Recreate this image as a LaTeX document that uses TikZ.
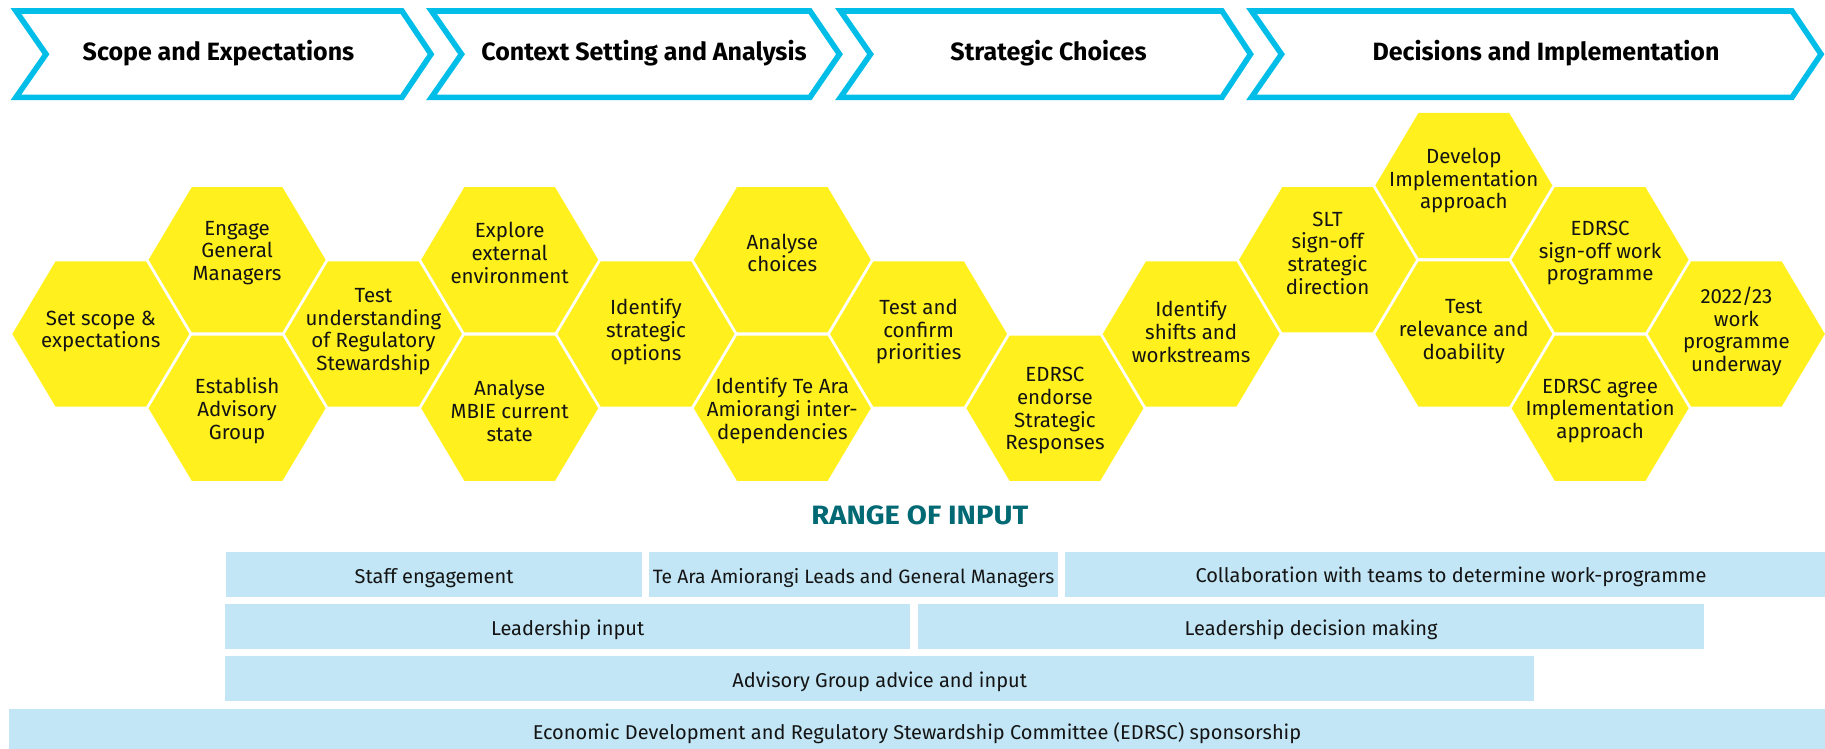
\documentclass[tikz,border=0pt]{standalone}
\usepackage{fontspec}
\setmainfont{Fira Sans}
\definecolor{chevblue}{RGB}{0,190,232}
\definecolor{hexyellow}{RGB}{255,240,30}
\definecolor{barblue}{RGB}{194,230,245}
\definecolor{tealtxt}{RGB}{0,105,115}
\definecolor{inktxt}{RGB}{20,20,20}
% #1 name, #2 column, #3 level, #4 text y, #5 text
\newcommand\hexcell[5]{%
  \pgfmathsetmacro\hx{100.8+136.3*#2}%
  \pgfmathsetmacro\hy{185.4+74.3*#3}%
  \fill[hexyellow] ({\hx-88.5},{\hy}) -- ({\hx-45.3},{\hy-72.6}) -- ({\hx+45.3},{\hy-72.6}) -- ({\hx+88.5},{\hy}) -- ({\hx+45.3},{\hy+72.6}) -- ({\hx-45.3},{\hy+72.6}) -- cycle;
  \node[hextext] (#1) at ({\hx},{#4}) {#5};
}
\begin{document}
\begin{tikzpicture}[x=1pt,y=-1pt,
  chev/.style={draw=chevblue,line width=5.6pt,line join=miter,fill=white},
  chevtext/.style={font=\fontsize{25}{30}\selectfont\bfseries,text=black,anchor=base,inner sep=0pt},
  hextext/.style={font=\fontsize{20.5}{22.7}\selectfont,text=inktxt,align=center,inner sep=0pt},
  bar/.style={fill=barblue,anchor=north west,inner sep=0pt,font=\fontsize{20}{24}\selectfont,text=inktxt,text height=17.6pt,text depth=0pt},
  bartext/.style={font=\fontsize{20}{24}\selectfont,text=inktxt,anchor=base,inner sep=0pt},
  rangetext/.style={font=\fontsize{26.5}{30}\selectfont\bfseries,text=tealtxt,inner sep=0pt}
]
\useasboundingbox (0,0) rectangle (1825,748);

% chevrons
\draw[chev] (16,11) -- (402,11) -- (431,54.2) -- (402,97.3) -- (16,97.3) -- (46,54.2) -- cycle;
\draw[chev] (431.5,11) -- (810,11) -- (839.5,54.2) -- (810,97.3) -- (431.5,97.3) -- (461.5,54.2) -- cycle;
\draw[chev] (840.5,11) -- (1222,11) -- (1250.5,54.2) -- (1222,97.3) -- (840.5,97.3) -- (870.5,54.2) -- cycle;
\draw[chev] (1251.5,11) -- (1792,11) -- (1821,54.2) -- (1792,97.3) -- (1251.5,97.3) -- (1281.5,54.2) -- cycle;
\node[chevtext] (c1) at (218.5,60.7) {Scope and Expectations};
\node[chevtext] (c2) at (644,60.7) {Context Setting and Analysis};
\node[chevtext] (c3) at (1048.5,60.7) {Strategic Choices};
\node[chevtext] (c4) at (1546,60.7) {Decisions and Implementation};

% hexagons
\hexcell{h1}{0}{2}{331.5}{Set scope \&\\expectations}
\hexcell{h2}{1}{1}{253}{Engage\\General\\Managers}
\hexcell{h3}{1}{3}{410.8}{Establish\\Advisory\\Group}
\hexcell{h4}{2}{2}{331.5}{Test\\understanding\\of Regulatory\\Stewardship}
\hexcell{h5}{3}{1}{253}{Explore\\external\\environment}
\hexcell{h6}{3}{3}{410.8}{Analyse\\MBIE current\\state}
\hexcell{h7}{4}{2}{331.5}{Identify\\strategic\\options}
\hexcell{h8}{5}{1}{253}{Analyse\\choices}
\hexcell{h9}{5}{3}{410.8}{Identify Te Ara\\Amiorangi inter-\\dependencies}
\hexcell{h10}{6}{2}{331.5}{Test and\\confirm\\priorities}
\hexcell{h11}{7}{3}{410.8}{EDRSC\\endorse\\Strategic\\Responses}
\hexcell{h12}{8}{2}{331.5}{Identify\\shifts and\\workstreams}
\hexcell{h13}{9}{1}{253}{SLT\\sign-off\\strategic\\direction}
\hexcell{h14}{10}{0}{180.7}{Develop\\Implementation\\approach}
\hexcell{h15}{10}{2}{331.5}{Test\\relevance and\\doability}
\hexcell{h16}{11}{1}{253}{EDRSC\\sign-off work\\programme}
\hexcell{h17}{11}{3}{410.8}{EDRSC agree\\Implementation\\approach}
\hexcell{h18}{12}{2}{331.5}{2022/23\\work\\programme\\underway}

% range of input
\node[rangetext] (range) at (919.8,515.2) {\scalebox{1.1}[1]{RANGE OF INPUT}};

\node[bar,minimum width=415.7pt,minimum height=45pt] (b1) at (226,551.7) {Staff engagement};
\node[bar,minimum width=408.7pt,minimum height=45pt,font=\fontsize{19.3}{24}\selectfont] (b2) at (649,551.7) {Te Ara Amiorangi Leads and General Managers};
\node[bar,minimum width=760pt,minimum height=45pt] (b3) at (1065,551.7) {};
\node[bartext] (t3) at (1451,582.9) {Collaboration with teams to determine work-programme};
\node[bar,minimum width=685pt,minimum height=45pt] (b4) at (225,604) {Leadership input};
\node[bar,minimum width=786.3pt,minimum height=45pt] (b5) at (917.7,604) {Leadership decision making};
\node[bar,minimum width=1309pt,minimum height=44.7pt] (b6) at (225,656) {Advisory Group advice and input};
\node[bar,minimum width=1816pt,minimum height=45pt] (b7) at (9,708.3) {};
\node[bartext] (t7) at (917,739.6) {Economic Development and Regulatory Stewardship Committee (EDRSC) sponsorship};
\end{tikzpicture}
\end{document}
